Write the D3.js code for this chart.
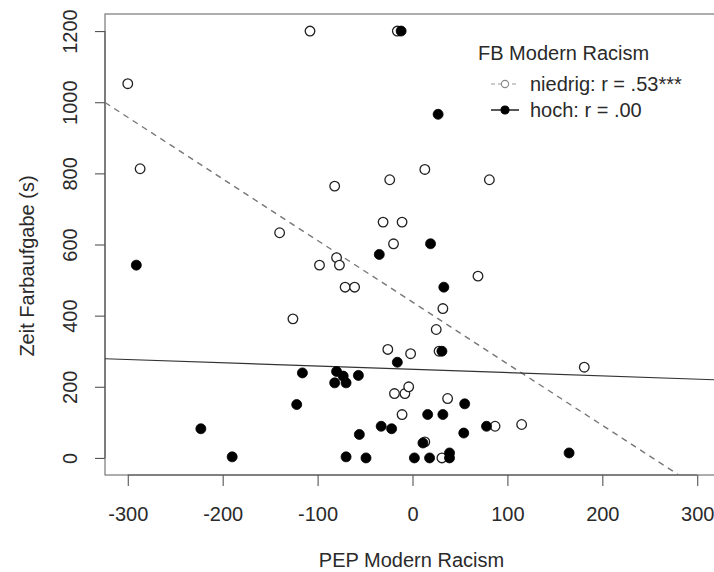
<!DOCTYPE html>
<html>
<head>
<meta charset="utf-8">
<script src="https://cdn.jsdelivr.net/npm/d3@7"></script>
<style>
  html, body { margin: 0; padding: 0; background: #fff; }
  svg { display: block; }
  text { font-family: "Liberation Sans", Arial, Helvetica, sans-serif; fill: #2a2a2a; }
</style>
</head>
<body>
<svg id="chart" width="714" height="572"></svg>
<script>
// ---- data ----
const niedrigX = [-300, -287, -140, -108, -16, -82, -24, 13, 81, -31, -11, -126, -20, -98, -80, -77, -71, -61, 69, 32, 25, 28, -26, -2, -19, -8, -4, 37, -11, 87, 13, 31, 181, 115];
const niedrigY = [1052, 813, 633, 1200, 1200, 764, 782, 811, 782, 663, 663, 391, 602, 542, 563, 542, 480, 480, 511, 420, 361, 300, 305, 293, 181, 181, 200, 167, 122, 89, 45, 0, 255, 94];
const hochX = [-12, 27, -291, -122, -223, -190, 19, -35, 33, 31, -16, -116, -80, -73, -57, -82, -70, 55, 16, 32, -56, -33, -22, 54, 78, 11, -70, -49, 2, 18, 39, 39, 165];
const hochY = [1200, 966, 542, 150, 82, 3, 602, 572, 480, 300, 269, 239, 243, 230, 232, 211, 211, 152, 122, 122, 66, 89, 82, 70, 89, 42, 3, 0, 0, 0, 14, 0, 14];
// regression lines: [intercept, slope]
const niedrigFit = [438, -1.732];
const hochFit = [249, -0.092];
const xTicks = [-300, -200, -100, 0, 100, 200, 300];
const yTicks = [0, 200, 400, 600, 800, 1000, 1200];
const xDomain = [-324, 324];
const yDomain = [-48, 1248];
const legendTitle = "FB Modern Racism";
const legendLabels = ["niedrig: r = .53***", "hoch: r = .00"];
const xTitle = "PEP Modern Racism";
const yTitle = "Zeit Farbaufgabe (s)";

// ---- layout ----
const plot = { left: 105, right: 720, top: 14, bottom: 475 };
const svg = d3.select("#chart");
const x = d3.scaleLinear().domain(xDomain).range([plot.left, plot.right]);
const y = d3.scaleLinear().domain(yDomain).range([plot.bottom, plot.top]);
const fmt = d => String(d);

svg.append("defs").append("clipPath").attr("id", "clip")
  .append("rect").attr("x", plot.left).attr("y", plot.top)
  .attr("width", plot.right - plot.left).attr("height", plot.bottom - plot.top);

// box
svg.append("rect").attr("x", plot.left).attr("y", plot.top)
  .attr("width", plot.right - plot.left).attr("height", plot.bottom - plot.top)
  .attr("fill", "none").attr("stroke", "#777").attr("stroke-width", 1.2);

// x axis
const xAxis = d3.axisBottom(x).tickValues(xTicks).tickSize(11).tickPadding(8).tickFormat(fmt);
const gx = svg.append("g").attr("transform", `translate(0,${plot.bottom})`).call(xAxis);
gx.select(".domain").attr("d", `M${x(xTicks[0])},0H${x(xTicks[xTicks.length-1])}`).attr("stroke", "#555").attr("stroke-width", 1.1);
gx.selectAll(".tick line").attr("stroke", "#555").attr("stroke-width", 1.1);
gx.selectAll(".tick text").attr("font-size", 20).attr("font-family", "Liberation Sans, Arial, sans-serif").attr("fill", "#2a2a2a")
  .attr("dy", "0").attr("y", 46);

// y axis
const yAxis = d3.axisLeft(y).tickValues(yTicks).tickSize(10).tickFormat(fmt);
const gy = svg.append("g").attr("transform", `translate(${plot.left},0)`).call(yAxis);
gy.select(".domain").attr("d", `M0,${y(yTicks[0])}V${y(yTicks[yTicks.length-1])}`).attr("stroke", "#555").attr("stroke-width", 1.1);
gy.selectAll(".tick line").attr("stroke", "#555").attr("stroke-width", 1.1);
gy.selectAll(".tick text")
  .attr("font-size", 20).attr("font-family", "Liberation Sans, Arial, sans-serif").attr("fill", "#2a2a2a")
  .attr("x", null).attr("dy", null)
  .attr("text-anchor", "middle")
  .attr("transform", "translate(-28,0) rotate(-90)");

// titles
svg.append("text").attr("x", (plot.left + plot.right) / 2 - 1).attr("y", 567)
  .attr("text-anchor", "middle").attr("font-size", 20).text(xTitle);
svg.append("text").attr("transform", `translate(34,266) rotate(-90)`)
  .attr("text-anchor", "middle").attr("font-size", 20).text(yTitle);

// regression lines
const g = svg.append("g").attr("clip-path", "url(#clip)");
const fitLine = (fit) => [[xDomain[0], fit[0] + fit[1] * xDomain[0]], [xDomain[1], fit[0] + fit[1] * xDomain[1]]];
const line = d3.line().x(d => x(d[0])).y(d => y(d[1]));
g.append("path").attr("d", line(fitLine(niedrigFit)))
  .attr("fill", "none").attr("stroke", "#777").attr("stroke-width", 1.4).attr("stroke-dasharray", "6,5");
g.append("path").attr("d", line(fitLine(hochFit)))
  .attr("fill", "none").attr("stroke", "#333").attr("stroke-width", 1.2);

// points
const nData = niedrigX.map((v, i) => [v, niedrigY[i]]);
const hData = hochX.map((v, i) => [v, hochY[i]]);
g.selectAll("circle.n").data(nData).join("circle").attr("class", "n")
  .attr("cx", d => x(d[0])).attr("cy", d => y(d[1])).attr("r", 4.8)
  .attr("fill", "#fff").attr("stroke", "#222").attr("stroke-width", 1.3);
g.selectAll("circle.h").data(hData).join("circle").attr("class", "h")
  .attr("cx", d => x(d[0])).attr("cy", d => y(d[1])).attr("r", 5)
  .attr("fill", "#000").attr("stroke", "#000").attr("stroke-width", 0.8);

// legend
const lg = svg.append("g");
lg.append("text").attr("x", 478).attr("y", 60).attr("font-size", 20).text(legendTitle);
const rows = [
  { label: legendLabels[0], yy: 84, dash: "4,3", lc: "#999", filled: false },
  { label: legendLabels[1], yy: 110, dash: null, lc: "#111", filled: true }
];
rows.forEach(r => {
  lg.append("line").attr("x1", 491).attr("x2", 519).attr("y1", r.yy).attr("y2", r.yy)
    .attr("stroke", r.lc).attr("stroke-width", r.filled ? 1.4 : 1.2).attr("stroke-dasharray", r.dash);
  lg.append("circle").attr("cx", 505).attr("cy", r.yy).attr("r", r.filled ? 4 : 3.6)
    .attr("fill", r.filled ? "#000" : "#fff").attr("stroke", r.filled ? "#000" : "#888").attr("stroke-width", 1.1);
  lg.append("text").attr("x", 530).attr("y", r.yy + 7).attr("font-size", 20).text(r.label);
});
</script>
</body>
</html>
